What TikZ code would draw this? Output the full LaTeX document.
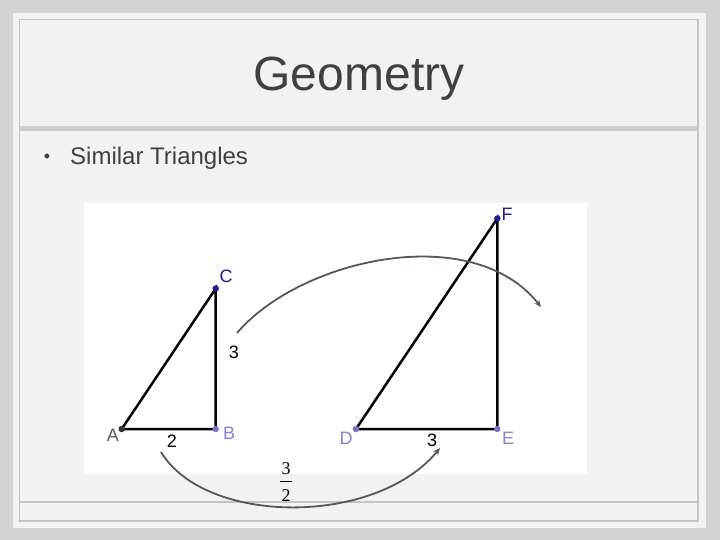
\documentclass[tikz,border=0pt]{standalone}
\usepackage{fontspec}
\setmainfont{Liberation Sans}
\newfontfamily\seriffont{Liberation Serif}
\usetikzlibrary{arrows.meta}
\definecolor{bggray}{HTML}{D2D2D2}
\definecolor{panel}{HTML}{F2F2F2}
\definecolor{frameline}{HTML}{C2C4C0}
\definecolor{sepband}{HTML}{CBCECD}
\definecolor{txt}{HTML}{404040}
\definecolor{arcc}{HTML}{4E5A60}
\definecolor{ptdark}{HTML}{1C1C96}
\definecolor{ptlight}{HTML}{7474C8}
\definecolor{ptlbl}{HTML}{8484D4}
\definecolor{ptgray}{HTML}{333333}
\tikzset{
  seg/.style={black, line width=2.5pt, line cap=round},
  arcarrow/.style={arcc, line width=1.8pt, -{Stealth[length=7pt,width=6pt]}},
  lbl/.style={font=\fontsize{18}{20}\selectfont, inner sep=0pt},
  num/.style={font=\fontsize{18}{20}\selectfont, inner sep=0pt, black},
  fr/.style={font=\seriffont\fontsize{18}{20}\selectfont, inner sep=0pt, black},
  pt/.style={circle, inner sep=0pt, minimum size=6.5pt}
}
\begin{document}
\begin{tikzpicture}[x=1pt,y=-1pt]
\useasboundingbox (0,0) rectangle (720,540);
\fill[bggray] (0,0) rectangle (720,540);
\fill[panel] (13,13) rectangle (706,528);
\draw[frameline, line width=1.6pt] (19.5,19.5) rectangle (698,521);
\fill[sepband] (20,126) rectangle (697,131.5);
\draw[frameline, line width=1.6pt] (20,502) -- (697,502);
% title
\node[txt, font=\fontsize{48}{52}\selectfont, anchor=base, inner sep=0pt] (title) at (359,91) {Geometry};
\node[txt, font=\fontsize{18}{20}\selectfont, inner sep=0pt] (bul) at (47,158) {•};
\node[txt, font=\fontsize{24}{27}\selectfont, anchor=base west, inner sep=0pt] (sub) at (70,165) {Similar Triangles};
% picture area
\fill[white] (84,203) rectangle (587,473.5);
% points
\coordinate (A) at (121.7,429);
\coordinate (B) at (215.7,429);
\coordinate (C) at (215.7,288.5);
\coordinate (D) at (356,429);
\coordinate (E) at (497.3,429);
\coordinate (F) at (497.3,218.5);
\draw[seg] (A) -- (B) -- (C) -- cycle;
\draw[seg] (D) -- (E) -- (F) -- cycle;
\node[pt, fill=ptgray] (pA) at (A) {};
\node[pt, fill=ptlight] (pB) at (B) {};
\node[pt, fill=ptdark] (pC) at (C) {};
\node[pt, fill=ptlight] (pD) at (D) {};
\node[pt, fill=ptlight] (pE) at (E) {};
\node[pt, fill=ptdark] (pF) at (F) {};
\node[lbl, text=ptgray!80] (lA) at (113,435) {A};
\node[lbl, text=ptlbl] (lB) at (229,433) {B};
\node[lbl, text=ptdark] (lC) at (226,276) {C};
\node[lbl, text=ptlbl] (lD) at (346,438) {D};
\node[lbl, text=ptlbl] (lE) at (508,438) {E};
\node[lbl, text=ptdark] (lF) at (507,214) {F};
\node[num] (n2) at (172,441) {2};
\node[num] (n3a) at (234,352) {3};
\node[num] (n3b) at (432,440) {3};
% arcs
\coordinate (u0) at (237,333);
\coordinate (u1) at (541,307);
\draw[arcarrow] (u0) .. controls (300,259) and (472,220) .. (u1);
\coordinate (l0) at (161,452);
\coordinate (l1) at (440,448);
\draw[arcarrow] (l0) .. controls (205,525) and (375,527) .. (l1);
% fraction
\node[fr] (f3) at (286,469) {3};
\node[fr] (f2) at (286,496) {2};
\draw[black, line width=0.8pt] ([xshift=-6pt,yshift=-6.5pt]f3.south) -- ([xshift=6pt,yshift=-6.5pt]f3.south);
\end{tikzpicture}
\end{document}
